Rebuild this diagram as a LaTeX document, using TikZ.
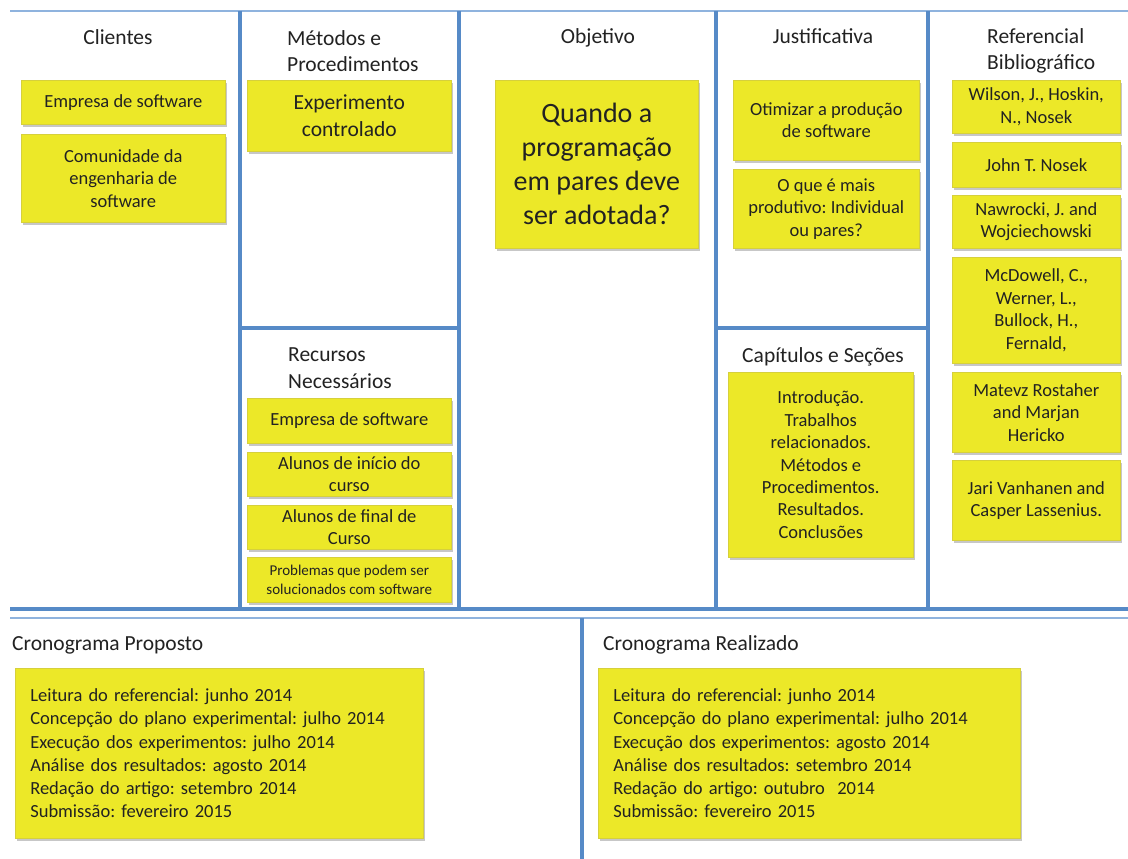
\documentclass[tikz,border=0pt]{standalone}
\usepackage{fontspec}
\setmainfont{Carlito}
\usetikzlibrary{shadows}
\frenchspacing

\definecolor{frameblue}{RGB}{86,138,199}
\definecolor{lightframe}{RGB}{143,179,222}
\definecolor{stickyfill}{RGB}{236,232,40}
\definecolor{stickyedge}{RGB}{214,208,60}
\definecolor{ink}{RGB}{34,34,34}

\tikzset{
  card/.style={fill=stickyfill, draw=stickyedge, line width=0.6pt, inner sep=0pt,
    align=center, text=ink, font=\fontsize{18.5}{22.4}\selectfont,
    drop shadow={shadow xshift=1.2pt, shadow yshift=-3pt, opacity=0.4, fill=black!55},
    anchor=north west},
  heading/.style={text=ink, font=\fontsize{21.5}{26.5}\selectfont, inner sep=0pt},
  thickrule/.style={draw=frameblue, line width=4pt},
  thinrule/.style={draw=lightframe, line width=2pt},
}

\begin{document}
\begin{tikzpicture}[x=1pt, y=-1pt]
\useasboundingbox[fill=white] (0,0) rectangle (1128,859);

% frame of the canvas
\draw[thinrule] (10,11) -- (1128,11);
\draw[thinrule] (10,618) -- (1128,618);
\draw[thickrule] (10,609) -- (1128,609);
\foreach \xx in {240,459,716,928} \draw[thickrule] (\xx,11) -- (\xx,609);
\draw[thickrule] (240,328) -- (459,328);
\draw[thickrule] (716,328) -- (928,328);
\draw[thickrule] (582,618) -- (582,859);

% column headings (multi-line ones are placed by their last baseline)
\node[heading, anchor=base] (hcli) at (118,45) {Clientes};
\node[heading, anchor=base west, align=left] (hmet) at (287,72) {Métodos e\\Procedimentos};
\node[heading, anchor=base] (hobj) at (598,44) {Objetivo};
\node[heading, anchor=base] (hjus) at (823,44) {Justificativa};
\node[heading, anchor=base west, align=left] (href) at (987,70) {Referencial\\Bibliográfico};
\node[heading, anchor=base west, align=left] (hrec) at (288,388) {Recursos\\Necessários};
\node[heading, anchor=base] (hcap) at (823,362) {Capítulos e Seções};
\node[heading, anchor=base west] (hprop) at (12,650) {Cronograma Proposto};
\node[heading, anchor=base west] (hreal) at (603,650) {Cronograma Realizado};

% Clientes
\node[card, minimum width=204, minimum height=44] (c1) at (21,80) {Empresa de software};
\node[card, minimum width=204, minimum height=88] (c2) at (21,134) {Comunidade da\\engenharia de\\software};

% Métodos e Procedimentos
\node[card, minimum width=204, minimum height=71, font=\fontsize{21.5}{27}\selectfont] (m1) at (247,80) {Experimento\\controlado};

% Recursos Necessários
\node[card, minimum width=204, minimum height=45] (r1) at (247,398) {Empresa de software};
\node[card, minimum width=204, minimum height=44] (r2) at (247,452) {Alunos de início do\\curso};
\node[card, minimum width=204, minimum height=44] (r3) at (247,505) {Alunos de final de\\Curso};
\node[card, minimum width=204, minimum height=45, font=\fontsize{15}{18.5}\selectfont] (r4) at (247,557) {Problemas que podem ser\\solucionados com software};

% Objetivo
\node[card, minimum width=203, minimum height=168, font=\fontsize{28}{34}\selectfont] (o1) at (495,80) {Quando a\\programação\\em pares deve\\ser adotada?};

% Justificativa
\node[card, minimum width=186, minimum height=80] (j1) at (733,80) {Otimizar a produção\\de software};
\node[card, minimum width=186, minimum height=79] (j2) at (733,169) {O que é mais\\produtivo: Individual\\ou pares?};

% Capítulos e Seções
\node[card, minimum width=185, minimum height=185] (s1) at (728,372) {Introdução.\\Trabalhos\\relacionados.\\Métodos e\\Procedimentos.\\Resultados.\\Conclusões};

% Referencial Bibliográfico
\node[card, minimum width=168, minimum height=53] (b1) at (952,80) {Wilson, J., Hoskin,\\N., Nosek};
\node[card, minimum width=168, minimum height=45] (b2) at (952,142) {John T. Nosek};
\node[card, minimum width=168, minimum height=53] (b3) at (952,195) {Nawrocki, J. and\\Wojciechowski};
\node[card, minimum width=168, minimum height=106] (b4) at (952,257) {McDowell, C.,\\Werner, L.,\\Bullock, H.,\\Fernald,};
\node[card, minimum width=168, minimum height=80] (b5) at (952,372) {Matevz Rostaher\\and Marjan\\Hericko};
\node[card, minimum width=168, minimum height=80] (b6) at (952,460) {Jari Vanhanen and\\Casper Lassenius.};

% Cronogramas
\node[card, text width=378, inner xsep=15pt, minimum height=170, align=left, font=\fontsize{18.5}{23.2}\selectfont] (p1) at (15,668)
  {Leitura do referencial: junho 2014\\Concepção do plano experimental: julho 2014\\Execução dos experimentos: julho 2014\\Análise dos resultados: agosto 2014\\Redação do artigo: setembro 2014\\Submissão: fevereiro 2015};
\node[card, text width=392, inner xsep=15pt, minimum height=170, align=left, font=\fontsize{18.5}{23.2}\selectfont] (p2) at (598,668)
  {Leitura do referencial: junho 2014\\Concepção do plano experimental: julho 2014\\Execução dos experimentos: agosto 2014\\Análise dos resultados: setembro 2014\\Redação do artigo: outubro~~2014\\Submissão: fevereiro 2015};
\end{tikzpicture}
\end{document}
